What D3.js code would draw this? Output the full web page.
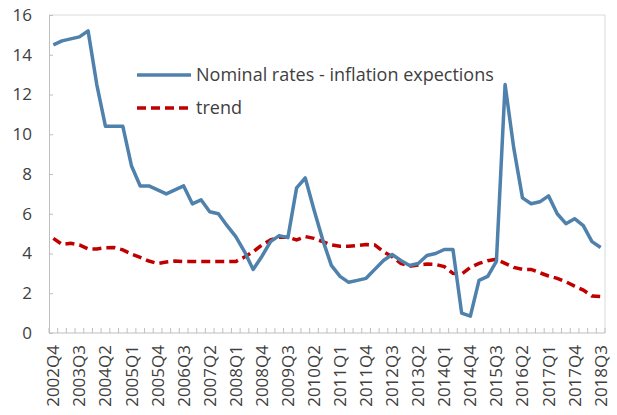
<!DOCTYPE html>
<meta charset="utf-8">
<style>
body { margin: 0; background: #fff; }
text { font-family: "Open Sans", sans-serif; fill: #404040; }
</style>
<svg width="617" height="415"></svg>
<script src="https://d3js.org/d3.v7.min.js"></script>
<script>

// quarters 2002Q4 .. 2018Q3
var quarters = [];
for (var yr = 2002; yr <= 2018; yr++) {
  for (var q = 1; q <= 4; q++) {
    if ((yr === 2002 && q < 4) || (yr === 2018 && q > 3)) continue;
    quarters.push(yr + "Q" + q);
  }
}

var nominal = [14.5, 14.7, 14.8, 14.9, 15.2, 12.5, 10.4, 10.4, 10.4, 8.4,
  7.4, 7.4, 7.2, 7.0, 7.2, 7.4, 6.5, 6.7, 6.1, 6.0,
  5.4, 4.85, 4.1, 3.2, 3.85, 4.6, 4.9, 4.8, 7.3, 7.8,
  6.2, 4.7, 3.4, 2.85, 2.55, 2.65, 2.75, 3.2, 3.65, 3.95,
  3.65, 3.4, 3.5, 3.9, 4.0, 4.2, 4.2, 1.0, 0.85, 2.65,
  2.85, 3.6, 12.5, 9.3, 6.8, 6.5, 6.6, 6.9, 6.0, 5.5,
  5.75, 5.4, 4.6, 4.3];

var trend = [4.76, 4.46, 4.51, 4.43, 4.23, 4.23, 4.29, 4.3, 4.18, 3.97,
  3.81, 3.62, 3.5, 3.57, 3.62, 3.6, 3.6, 3.6, 3.6, 3.6,
  3.6, 3.6, 3.82, 4.09, 4.43, 4.68, 4.82, 4.82, 4.68, 4.85,
  4.76, 4.6, 4.43, 4.36, 4.36, 4.4, 4.45, 4.43, 4.09, 3.84,
  3.5, 3.36, 3.42, 3.47, 3.45, 3.34, 3.0, 2.97, 3.3, 3.5,
  3.64, 3.71, 3.5, 3.3, 3.2, 3.2, 3.03, 2.87, 2.75, 2.58,
  2.36, 2.16, 1.86, 1.83];

var yTicks = [0, 2, 4, 6, 8, 10, 12, 14, 16];
var seriesNames = ["Nominal rates - inflation expections", "trend"];

var svg = d3.select("svg");
var mLeft = 49, mRight = 605, mTop = 15, mBottom = 333;

var x = d3.scaleBand().domain(quarters).range([mLeft, mRight]);
var yScale = d3.scaleLinear().domain([0, 16]).range([mBottom, mTop]);
var cx = function(d, i) { return x(quarters[i]) + x.bandwidth() / 2; };

// plot frame
svg.append("path")
    .attr("d", "M" + mLeft + "," + mTop + "H" + mRight + "V" + mBottom)
    .attr("fill", "none")
    .attr("stroke", "#d9d9d9")
    .attr("stroke-width", 1);

// y axis
var yAxis = svg.append("g")
    .attr("transform", "translate(" + mLeft + ",0)")
    .call(d3.axisLeft(yScale).tickValues(yTicks).tickSize(-4).tickPadding(17));
yAxis.select(".domain").attr("stroke", "#bfbfbf");
yAxis.selectAll(".tick line").attr("stroke", "#bfbfbf");
yAxis.selectAll("text").style("font-size", "17px").attr("fill", "#404040");

// x axis: ticks between categories, inside
var xg = svg.append("g");
xg.append("line")
    .attr("x1", mLeft).attr("x2", mRight)
    .attr("y1", mBottom).attr("y2", mBottom)
    .attr("stroke", "#bfbfbf");
xg.selectAll(".xt")
  .data(quarters.concat(["end"]))
  .enter().append("line")
    .attr("x1", function(d, i) { return mLeft + i * x.bandwidth(); })
    .attr("x2", function(d, i) { return mLeft + i * x.bandwidth(); })
    .attr("y1", mBottom).attr("y2", mBottom - 5)
    .attr("stroke", "#bfbfbf");
xg.selectAll(".xl")
  .data(quarters.filter(function(d, i) { return i % 3 === 0; }))
  .enter().append("text")
    .attr("transform", function(d) {
      return "translate(" + (x(d) + x.bandwidth() / 2 + 6) + "," + (mBottom + 12) + ") rotate(-90)";
    })
    .attr("text-anchor", "end")
    .style("font-size", "17px")
    .text(function(d) { return d; });

// lines
var line = d3.line()
    .x(cx)
    .y(function(d) { return yScale(d); });

svg.append("path")
    .datum(trend)
    .attr("d", line)
    .attr("fill", "none")
    .attr("stroke", "#c00000")
    .attr("stroke-width", 3.5)
    .attr("stroke-dasharray", "9,5");

svg.append("path")
    .datum(nominal)
    .attr("d", line)
    .attr("fill", "none")
    .attr("stroke", "#4f81ad")
    .attr("stroke-width", 3.5)
    .attr("stroke-linejoin", "round");

// legend
var legend = svg.append("g");
var legendStyles = [
  {color: "#4f81ad", dash: null},
  {color: "#c00000", dash: "9,5"}
];
seriesNames.forEach(function(name, i) {
  var ly = 75 + i * 33;
  legend.append("line")
      .attr("x1", 137).attr("x2", 191)
      .attr("y1", ly).attr("y2", ly)
      .attr("stroke", legendStyles[i].color)
      .attr("stroke-width", 3.5)
      .attr("stroke-dasharray", legendStyles[i].dash);
  legend.append("text")
      .attr("x", 196).attr("y", ly)
      .attr("dy", "0.35em")
      .style("font-size", "18px")
      .text(name);
});

</script>
